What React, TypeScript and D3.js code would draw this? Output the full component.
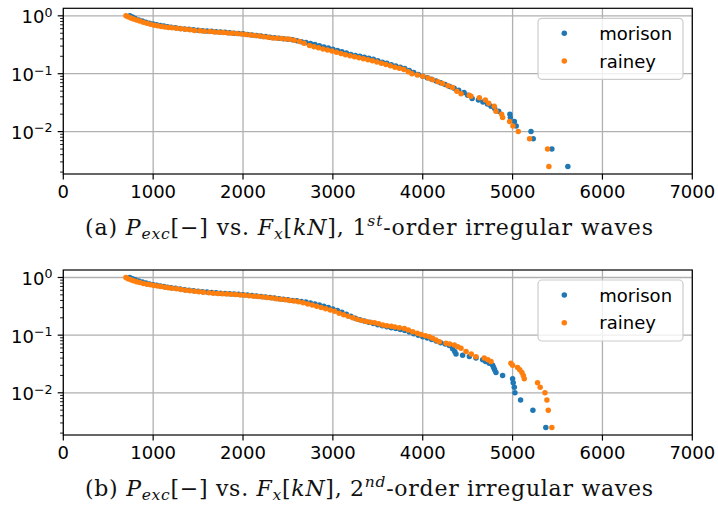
import { scaleLinear, scaleLog } from "d3"

// tick values and legend
const xTicks = [0, 1000, 2000, 3000, 4000, 5000, 6000, 7000]
const yDecades = [0, -1, -2]
const seriesNames = ["morison", "rainey"]
const seriesColors = ["#1f77b4", "#ff7f0e"]

// [Fx in kN, exceedance probability], 1st-order irregular waves
const morisonFirst: [number, number][] = [
  [740, 1.0], [770, 0.95], [800, 0.9], [840, 0.85], [880, 0.81], [920, 0.775], [960, 0.745],
  [1000, 0.72], [1040, 0.7], [1080, 0.68], [1120, 0.665], [1160, 0.65], [1200, 0.635],
  [1250, 0.62], [1300, 0.605], [1350, 0.595], [1400, 0.585], [1450, 0.575], [1500, 0.565],
  [1550, 0.555], [1600, 0.548], [1650, 0.54], [1700, 0.533], [1750, 0.525], [1800, 0.518],
  [1850, 0.51], [1900, 0.502], [1950, 0.495], [2000, 0.488], [2050, 0.478], [2100, 0.468],
  [2150, 0.458], [2200, 0.448], [2250, 0.438], [2300, 0.428], [2350, 0.418], [2400, 0.41],
  [2450, 0.402], [2500, 0.394], [2550, 0.385], [2600, 0.372], [2650, 0.358], [2700, 0.345],
  [2750, 0.333], [2800, 0.32], [2850, 0.305], [2900, 0.29], [2950, 0.278], [3000, 0.265],
  [3050, 0.253], [3100, 0.24], [3150, 0.228], [3200, 0.215], [3250, 0.206], [3300, 0.2],
  [3350, 0.193], [3400, 0.185], [3450, 0.177], [3500, 0.168], [3550, 0.158], [3600, 0.151],
  [3650, 0.143], [3700, 0.136], [3750, 0.13], [3800, 0.123], [3850, 0.114], [3900, 0.105],
  [3950, 0.097], [4000, 0.09], [4050, 0.085], [4100, 0.08], [4150, 0.075], [4200, 0.07],
  [4250, 0.065], [4300, 0.06], [4350, 0.056], [4400, 0.052], [4460, 0.0475], [4500, 0.0425],
  [4550, 0.0375], [4620, 0.035], [4670, 0.0325], [4720, 0.03], [4760, 0.0275], [4800, 0.025],
  [4845, 0.0225], [4970, 0.02], [4975, 0.0175], [5020, 0.015], [5040, 0.0125], [5205, 0.01],
  [5230, 0.0075], [5437, 0.005], [5615, 0.0025],
]
const raineyFirst: [number, number][] = [
  [697, 1.0], [720, 0.96], [750, 0.92], [780, 0.88], [815, 0.85], [850, 0.81], [890, 0.775],
  [930, 0.745], [970, 0.715], [1010, 0.69], [1050, 0.672], [1090, 0.655], [1130, 0.642],
  [1170, 0.63], [1210, 0.62], [1260, 0.61], [1310, 0.597], [1360, 0.585], [1410, 0.572],
  [1460, 0.56], [1520, 0.55], [1570, 0.543], [1630, 0.536], [1680, 0.527], [1730, 0.52],
  [1780, 0.514], [1830, 0.507], [1880, 0.5], [1930, 0.494], [1980, 0.485], [2030, 0.476],
  [2080, 0.467], [2130, 0.457], [2180, 0.447], [2230, 0.437], [2280, 0.426], [2330, 0.416],
  [2380, 0.41], [2430, 0.404], [2480, 0.399], [2520, 0.395], [2570, 0.38], [2630, 0.36],
  [2680, 0.335], [2740, 0.307], [2790, 0.292], [2840, 0.28], [2890, 0.268], [2940, 0.257],
  [2990, 0.246], [3040, 0.235], [3090, 0.223], [3140, 0.213], [3190, 0.204], [3240, 0.196],
  [3290, 0.188], [3340, 0.182], [3390, 0.175], [3440, 0.167], [3490, 0.159], [3540, 0.152],
  [3590, 0.144], [3640, 0.137], [3690, 0.13], [3740, 0.124], [3790, 0.118], [3840, 0.108],
  [3880, 0.1], [3940, 0.095], [4000, 0.09], [4060, 0.084], [4110, 0.079], [4170, 0.073],
  [4220, 0.068], [4280, 0.062], [4330, 0.058], [4380, 0.05], [4426, 0.045], [4518, 0.0425],
  [4537, 0.041], [4630, 0.0386], [4697, 0.035], [4734, 0.031], [4796, 0.0275], [4815, 0.0225],
  [4878, 0.02], [4889, 0.0175], [4967, 0.015], [5004, 0.0125], [5063, 0.01], [5189, 0.0075],
  [5389, 0.005], [5404, 0.0025],
]

// [Fx in kN, exceedance probability], 2nd-order irregular waves
const morisonSecond: [number, number][] = [
  [740, 1.0], [770, 0.95], [800, 0.91], [840, 0.87], [880, 0.835], [920, 0.8], [960, 0.775],
  [1000, 0.75], [1040, 0.73], [1080, 0.712], [1120, 0.695], [1160, 0.68], [1200, 0.665],
  [1250, 0.648], [1300, 0.632], [1350, 0.616], [1400, 0.6], [1450, 0.588], [1500, 0.578],
  [1550, 0.568], [1600, 0.56], [1650, 0.55], [1700, 0.542], [1750, 0.535], [1800, 0.528],
  [1850, 0.522], [1900, 0.516], [1950, 0.51], [2000, 0.503], [2050, 0.495], [2100, 0.487],
  [2150, 0.478], [2200, 0.469], [2250, 0.46], [2300, 0.45], [2350, 0.44], [2400, 0.43],
  [2450, 0.42], [2500, 0.41], [2550, 0.4], [2600, 0.395], [2650, 0.385], [2700, 0.375],
  [2750, 0.362], [2800, 0.348], [2850, 0.334], [2900, 0.318], [2950, 0.302], [3000, 0.285],
  [3050, 0.268], [3100, 0.25], [3150, 0.23], [3200, 0.212], [3250, 0.197], [3300, 0.185],
  [3350, 0.176], [3400, 0.168], [3450, 0.16], [3500, 0.152], [3550, 0.145], [3600, 0.14],
  [3650, 0.135], [3700, 0.13], [3750, 0.125], [3800, 0.12], [3850, 0.113], [3900, 0.106],
  [3950, 0.1], [4000, 0.094], [4050, 0.089], [4100, 0.084], [4150, 0.079], [4200, 0.074],
  [4250, 0.07], [4296, 0.066], [4333, 0.058], [4356, 0.052], [4370, 0.047], [4444, 0.045],
  [4519, 0.0425], [4593, 0.04], [4667, 0.0375], [4700, 0.035], [4740, 0.0325], [4778, 0.03],
  [4789, 0.0275], [4800, 0.025], [4815, 0.0225], [4889, 0.02], [5000, 0.0175], [5007, 0.015],
  [5019, 0.0125], [5026, 0.01], [5089, 0.0075], [5226, 0.005], [5370, 0.0025],
]
const raineySecond: [number, number][] = [
  [697, 1.0], [720, 0.955], [750, 0.91], [780, 0.875], [815, 0.84], [850, 0.815], [890, 0.79],
  [930, 0.765], [970, 0.745], [1010, 0.725], [1050, 0.71], [1090, 0.695], [1130, 0.68],
  [1170, 0.665], [1210, 0.65], [1260, 0.637], [1310, 0.62], [1360, 0.603], [1410, 0.588],
  [1460, 0.576], [1510, 0.566], [1560, 0.557], [1620, 0.545], [1670, 0.535], [1720, 0.527],
  [1770, 0.52], [1820, 0.515], [1870, 0.51], [1920, 0.505], [1970, 0.498], [2020, 0.492],
  [2070, 0.483], [2120, 0.475], [2170, 0.467], [2220, 0.458], [2270, 0.45], [2320, 0.44],
  [2370, 0.43], [2420, 0.42], [2470, 0.41], [2520, 0.4], [2570, 0.39], [2620, 0.38],
  [2670, 0.365], [2720, 0.348], [2770, 0.332], [2820, 0.318], [2870, 0.303], [2920, 0.288],
  [2970, 0.274], [3020, 0.26], [3070, 0.24], [3120, 0.225], [3170, 0.212], [3220, 0.2],
  [3270, 0.188], [3320, 0.18], [3370, 0.173], [3420, 0.168], [3463, 0.164], [3510, 0.157],
  [3556, 0.15], [3600, 0.146], [3650, 0.142], [3690, 0.139], [3740, 0.135], [3796, 0.131],
  [3840, 0.123], [3889, 0.115], [3940, 0.108], [3982, 0.103], [4030, 0.098], [4074, 0.094],
  [4110, 0.088], [4148, 0.082], [4185, 0.077], [4259, 0.072], [4300, 0.07], [4352, 0.0675],
  [4390, 0.063], [4426, 0.059], [4482, 0.052], [4540, 0.047], [4593, 0.042], [4685, 0.04],
  [4725, 0.0375], [4760, 0.035], [4981, 0.0325], [5000, 0.03], [5056, 0.0275], [5080, 0.025],
  [5104, 0.0225], [5119, 0.02], [5130, 0.0175], [5278, 0.015], [5307, 0.0125], [5360, 0.01],
  [5382, 0.0075], [5397, 0.005], [5437, 0.0025],
]

const W = 718
const H = 511
const LEFT = 63.3
const RIGHT = 692.3
const TICK_FONT = "'DejaVu Sans', sans-serif"
const CAPTION_FONT = "'DejaVu Serif', 'Liberation Serif', serif"

const xScale = scaleLinear().domain([0, 7000]).range([LEFT, RIGHT])

function Panel({ top, bottom, series, captionY, letter, order, orderSup }: {
  top: number
  bottom: number
  series: [number, number][][]
  captionY: number
  letter: string
  order: string
  orderSup: string
}) {
  const yScale = scaleLog().domain([Math.pow(10, -2.732), Math.pow(10, 0.13)]).range([bottom, top])
  const [lo, hi] = yScale.domain()
  const minor: number[] = []
  for (let k = -3; k <= 0; k++) {
    for (let m = 2; m <= 9; m++) {
      const v = m * Math.pow(10, k)
      if (v >= lo && v <= hi) minor.push(v)
    }
  }
  const legendX = 538
  const legendY = top + 10

  return (
    <g>
      {/* grid */}
      {xTicks.map((t) => (
        <line key={"gx" + t} x1={xScale(t)} x2={xScale(t)} y1={top} y2={bottom} stroke="#b0b0b0" strokeWidth={1.3} />
      ))}
      {yDecades.map((d) => (
        <line key={"gy" + d} x1={LEFT} x2={RIGHT} y1={yScale(Math.pow(10, d))} y2={yScale(Math.pow(10, d))} stroke="#b0b0b0" strokeWidth={1.3} />
      ))}

      {/* points */}
      {series.map((s, i) => (
        <g key={i} fill={seriesColors[i]}>
          {s.map(([f, p], j) => (
            <circle key={j} cx={xScale(f)} cy={yScale(p)} r={2.75} />
          ))}
        </g>
      ))}

      {/* frame */}
      <rect x={LEFT} y={top} width={RIGHT - LEFT} height={bottom - top} fill="none" stroke="#000" strokeWidth={1.2} />

      {/* x axis */}
      {xTicks.map((t) => (
        <g key={"xt" + t}>
          <line x1={xScale(t)} x2={xScale(t)} y1={bottom} y2={bottom + 5.6} stroke="#000" strokeWidth={1.2} />
          <text x={xScale(t)} y={bottom + 24} textAnchor="middle" fontFamily={TICK_FONT} fontSize={18} fill="#000">
            {t}
          </text>
        </g>
      ))}

      {/* y axis */}
      {minor.map((v, i) => (
        <line key={"mn" + i} x1={LEFT - 3.2} x2={LEFT} y1={yScale(v)} y2={yScale(v)} stroke="#000" strokeWidth={0.9} />
      ))}
      {yDecades.map((d) => (
        <g key={"yt" + d}>
          <line x1={LEFT - 5.6} x2={LEFT} y1={yScale(Math.pow(10, d))} y2={yScale(Math.pow(10, d))} stroke="#000" strokeWidth={1.2} />
          <text x={52.5} y={yScale(Math.pow(10, d)) + 7.6} textAnchor="end" fontFamily={TICK_FONT} fontSize={18} fill="#000">
            10
            <tspan dy={-6.8} fontSize={12.6}>
              {d === 0 ? "0" : "\u2212" + Math.abs(d)}
            </tspan>
          </text>
        </g>
      ))}

      {/* legend */}
      <rect x={legendX} y={legendY} width={145} height={61} rx={4} fill="#fff" fillOpacity={0.8} stroke="#cccccc" strokeWidth={1.2} />
      {seriesNames.map((name, i) => (
        <g key={name}>
          <circle cx={564.3} cy={top + 25 + i * 27.7} r={2.75} fill={seriesColors[i]} />
          <text x={599.3} y={top + 31.6 + i * 27.7} fontFamily={TICK_FONT} fontSize={18} fill="#000">
            {name}
          </text>
        </g>
      ))}

      {/* caption */}
      <text
        x={369}
        y={captionY}
        textAnchor="middle"
        fontFamily={CAPTION_FONT}
        fontSize={22}
        fill="#111"
        textLength={568}
        lengthAdjust="spacing"
      >
        <tspan>({letter}) </tspan>
        <tspan fontStyle="italic">P</tspan>
        <tspan fontStyle="italic" fontSize={15.5} dy={4}>exc</tspan>
        <tspan dy={-4}>[−] vs. </tspan>
        <tspan fontStyle="italic">F</tspan>
        <tspan fontStyle="italic" fontSize={15.5} dy={4}>x</tspan>
        <tspan dy={-4}>[</tspan>
        <tspan fontStyle="italic">kN</tspan>
        <tspan>], {order}</tspan>
        <tspan fontStyle="italic" fontSize={15.5} dy={-9}>{orderSup}</tspan>
        <tspan dy={9}>-order irregular waves</tspan>
      </text>
    </g>
  )
}

export default function App() {
  return (
    <svg width={W} height={H} style={{ position: "absolute", left: 0, top: 0, background: "#fff" }}>
      <Panel top={8.3} bottom={174} series={[morisonFirst, raineyFirst]} captionY={235} letter="a" order="1" orderSup="st" />
      <Panel top={270} bottom={435} series={[morisonSecond, raineySecond]} captionY={496} letter="b" order="2" orderSup="nd" />
    </svg>
  )
}
